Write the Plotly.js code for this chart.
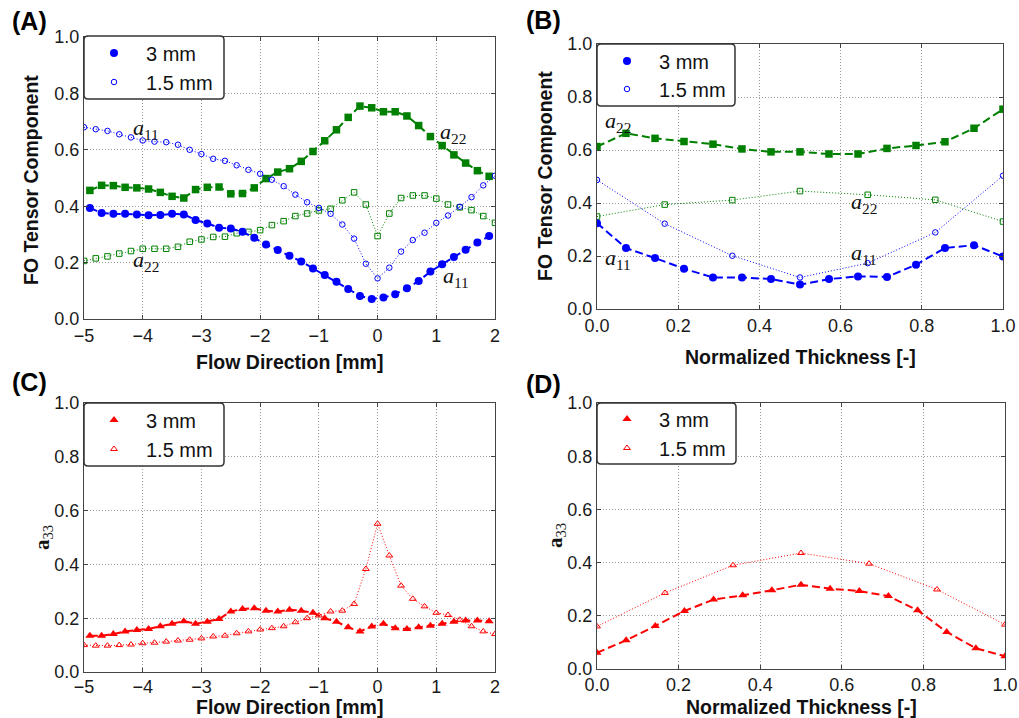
<!DOCTYPE html>
<html>
<head>
<meta charset="utf-8">
<script src="https://cdn.plot.ly/plotly-3.0.1.min.js"></script>
<style>html,body{margin:0;padding:0;background:#fff;}#chart{width:1019px;height:718px;}</style>
</head>
<body>
<div id="chart"></div>
<script>
// ---------- data ----------
const xFlow3 = [-4.9,-4.7,-4.5,-4.3,-4.1,-3.9,-3.7,-3.5,-3.3,-3.1,-2.9,-2.7,-2.5,-2.3,-2.1,-1.9,-1.7,-1.5,-1.3,-1.1,-0.9,-0.7,-0.5,-0.3,-0.1,0.1,0.3,0.5,0.7,0.9,1.1,1.3,1.5,1.7,1.9];
const xFlow15 = [-5.0,-4.8,-4.6,-4.4,-4.2,-4.0,-3.8,-3.6,-3.4,-3.2,-3.0,-2.8,-2.6,-2.4,-2.2,-2.0,-1.8,-1.6,-1.4,-1.2,-1.0,-0.8,-0.6,-0.4,-0.2,0.0,0.2,0.4,0.6,0.8,1.0,1.2,1.4,1.6,1.8,2.0];
const xThick3 = [0,0.0714,0.1429,0.2143,0.2857,0.3571,0.4286,0.5,0.5714,0.6429,0.7143,0.7857,0.8571,0.9286,1.0];
const xThick15 = [0,0.1667,0.3333,0.5,0.6667,0.8333,1.0];

// Panel A: flow direction
const flowA11_3 = [0.394,0.376,0.373,0.373,0.371,0.368,0.369,0.373,0.371,0.351,0.339,0.324,0.321,0.309,0.288,0.264,0.245,0.224,0.204,0.179,0.156,0.132,0.106,0.082,0.071,0.076,0.088,0.109,0.135,0.168,0.194,0.220,0.246,0.271,0.294];
const flowA22_3 = [0.456,0.474,0.473,0.467,0.465,0.461,0.449,0.435,0.429,0.459,0.467,0.468,0.444,0.445,0.465,0.498,0.521,0.533,0.559,0.594,0.632,0.671,0.715,0.755,0.749,0.735,0.735,0.720,0.686,0.647,0.615,0.582,0.553,0.526,0.506];
const flowA11_15 = [0.680,0.673,0.667,0.655,0.644,0.633,0.629,0.627,0.618,0.600,0.585,0.568,0.561,0.545,0.529,0.515,0.494,0.471,0.441,0.414,0.394,0.373,0.335,0.285,0.196,0.144,0.182,0.239,0.280,0.306,0.341,0.367,0.398,0.432,0.474,0.508];
const flowA22_15 = [0.206,0.215,0.222,0.232,0.241,0.249,0.249,0.249,0.256,0.274,0.282,0.291,0.292,0.304,0.309,0.315,0.333,0.347,0.365,0.374,0.385,0.391,0.421,0.449,0.406,0.294,0.374,0.429,0.438,0.438,0.427,0.406,0.396,0.386,0.365,0.341];

// Panel B: thickness
const thickA11_3 = [0.324,0.230,0.192,0.152,0.119,0.119,0.113,0.092,0.113,0.123,0.121,0.167,0.230,0.241,0.198];
const thickA22_3 = [0.613,0.663,0.644,0.632,0.622,0.604,0.593,0.593,0.585,0.585,0.606,0.617,0.631,0.682,0.754];
const thickA11_15 = [0.487,0.322,0.201,0.119,0.173,0.289,0.503];
const thickA22_15 = [0.349,0.394,0.411,0.445,0.431,0.412,0.330];

// Panel C: a33 along flow
const flowA33_3 = [0.135,0.135,0.141,0.151,0.156,0.160,0.170,0.179,0.189,0.179,0.187,0.197,0.225,0.234,0.237,0.228,0.225,0.231,0.228,0.220,0.200,0.187,0.166,0.151,0.169,0.179,0.163,0.160,0.166,0.172,0.179,0.187,0.191,0.191,0.189];
const flowA33_15 = [0.100,0.098,0.098,0.100,0.102,0.107,0.109,0.113,0.117,0.120,0.125,0.132,0.135,0.144,0.151,0.158,0.163,0.170,0.185,0.200,0.210,0.225,0.228,0.253,0.383,0.551,0.433,0.321,0.272,0.244,0.220,0.212,0.194,0.170,0.151,0.141];

// Panel D: a33 through thickness
const thickA33_3 = [0.061,0.108,0.162,0.218,0.261,0.277,0.296,0.317,0.302,0.293,0.274,0.221,0.139,0.078,0.048];
const thickA33_15 = [0.160,0.286,0.390,0.436,0.396,0.299,0.167];

const legendLabels = ['3 mm', '1.5 mm'];
const yTickVals = [0,0.2,0.4,0.6,0.8,1.0];
const flowTicks = [-5,-4,-3,-2,-1,0,1,2];
const thickTicks = [0,0.2,0.4,0.6,0.8,1.0];

// ---------- style ----------
const W = 1019, H = 718;
const FONT = 'Liberation Sans, Arial, Helvetica, sans-serif';
const SERIF = 'Liberation Serif, DejaVu Serif, Times New Roman, serif';
const BLUE = '#0000ff', GREEN = '#008000', RED = '#ff0000';
const px = p => p / W;
const py = p => 1 - p / H;

function series(x, y, xa, ya, color, filled, symbol, legendName, legendId) {
  const tr = [];
  tr.push({
    x: x, y: y, xaxis: xa, yaxis: ya, type: 'scatter', mode: 'lines',
    line: filled ? {color: color, width: 2, dash: '8px,4px'} : {color: color, width: 1, dash: '1px,2px'},
    showlegend: false, hoverinfo: 'skip'
  });
  tr.push({
    x: x, y: y, xaxis: xa, yaxis: ya, type: 'scatter', mode: 'markers',
    name: legendName || '', legend: legendId || 'legend',
    showlegend: !!legendName,
    marker: filled
      ? {symbol: symbol, size: symbol === 'square' ? 7.5 : 8, color: color, line: {width: 0}}
      : {symbol: symbol + '-open', size: symbol === 'triangle-up' ? 6 : 5.5, color: color, line: {width: 1, color: color}}
  });
  return tr;
}

const data = [].concat(
  series(xFlow3, flowA22_3, 'x', 'y', GREEN, true, 'square'),
  series(xFlow15, flowA22_15, 'x', 'y', GREEN, false, 'square'),
  series(xFlow3, flowA11_3, 'x', 'y', BLUE, true, 'circle', legendLabels[0], 'legend'),
  series(xFlow15, flowA11_15, 'x', 'y', BLUE, false, 'circle', legendLabels[1], 'legend2'),

  series(xThick3, thickA22_3, 'x2', 'y2', GREEN, true, 'square'),
  series(xThick15, thickA22_15, 'x2', 'y2', GREEN, false, 'square'),
  series(xThick3, thickA11_3, 'x2', 'y2', BLUE, true, 'circle', legendLabels[0], 'legend3'),
  series(xThick15, thickA11_15, 'x2', 'y2', BLUE, false, 'circle', legendLabels[1], 'legend4'),

  series(xFlow3, flowA33_3, 'x3', 'y3', RED, true, 'triangle-up', legendLabels[0], 'legend5'),
  series(xFlow15, flowA33_15, 'x3', 'y3', RED, false, 'triangle-up', legendLabels[1], 'legend6'),

  series(xThick3, thickA33_3, 'x4', 'y4', RED, true, 'triangle-up', legendLabels[0], 'legend7'),
  series(xThick15, thickA33_15, 'x4', 'y4', RED, false, 'triangle-up', legendLabels[1], 'legend8')
);

function axis(range, tickvals, fmt, domain, anchor, extra) {
  return Object.assign({
    range: range, domain: domain, anchor: anchor,
    tickmode: 'array', tickvals: tickvals, tickformat: fmt,
    showline: true, linecolor: '#444', linewidth: 1.2, mirror: 'ticks',
    ticks: 'inside', ticklen: 4, tickwidth: 1, tickcolor: '#444',
    showgrid: true, gridcolor: '#9a9a9a', griddash: '1px,2px', gridwidth: 1,
    zeroline: false, automargin: false, fixedrange: true,
    tickfont: {family: FONT, size: 18, color: '#1a1a1a'}
  }, extra || {});
}

// plot areas in pixels [left, top, right, bottom]
const boxA = [84, 37, 495, 319];
const boxB = [597, 44, 1003, 309];
const boxC = [84, 403, 495, 672];
const boxD = [597, 403, 1005, 669];
const xd = b => [px(b[0]), px(b[2])];
const yd = b => [py(b[3]), py(b[1])];

function legendBox(l, t, r, b) {
  const rx = 4 / W, ry = 4 / H;
  const x0 = px(l), x1 = px(r), y1 = py(t), y0 = py(b);
  return {
    type: 'path', xref: 'paper', yref: 'paper', layer: 'above',
    path: `M ${x0 + rx},${y1} L ${x1 - rx},${y1} Q ${x1},${y1} ${x1},${y1 - ry} L ${x1},${y0 + ry} Q ${x1},${y0} ${x1 - rx},${y0} L ${x0 + rx},${y0} Q ${x0},${y0} ${x0},${y0 + ry} L ${x0},${y1 - ry} Q ${x0},${y1} ${x0 + rx},${y1} Z`,
    fillcolor: '#ffffff', line: {color: '#333333', width: 1.5}
  };
}

// one legend per entry, placed at the entry's row centre
function legendCfg(l, yc) {
  return {
    x: px(l), y: py(yc), xanchor: 'left', yanchor: 'middle', xref: 'paper', yref: 'paper',
    bgcolor: 'rgba(0,0,0,0)', borderwidth: 0,
    font: {family: FONT, size: 20, color: '#111'},
    itemwidth: 54
  };
}

function label(text, xp, yp, opts) {
  return Object.assign({
    text: text, xref: 'paper', yref: 'paper', x: px(xp), y: py(yp),
    showarrow: false, xanchor: 'center', yanchor: 'middle',
    font: {family: FONT, size: 19.5, color: '#111'}
  }, opts || {});
}

function mathLabel(text, xa, ya, x, y) {
  return {
    text: text, xref: xa, yref: ya, x: x, y: y, showarrow: false,
    xanchor: 'left', yanchor: 'middle',
    font: {family: SERIF, size: 22, color: '#111'}
  };
}

const annotations = [
  label('<b>(A)</b>', 29, 21.5, {font: {family: FONT, size: 25, color: '#000'}}),
  label('<b>(B)</b>', 543, 20, {font: {family: FONT, size: 25, color: '#000'}}),
  label('<b>(C)</b>', 29, 382, {font: {family: FONT, size: 25, color: '#000'}}),
  label('<b>(D)</b>', 543, 384, {font: {family: FONT, size: 25, color: '#000'}}),

  label('<b>Flow Direction [mm]</b>', 289.5, 362),
  label('<b>Normalized Thickness [-]</b>', 800, 357),
  label('<b>Flow Direction [mm]</b>', 289.5, 707),
  label('<b>Normalized Thickness [-]</b>', 801, 707),

  label('<b>FO Tensor Component</b>', 31, 180, {textangle: -90}),
  label('<b>FO Tensor Component</b>', 545, 176, {textangle: -90}),
  label('<b>a</b><sub>33</sub>', 43, 538, {textangle: -90, font: {family: SERIF, size: 21, color: '#111'}}),
  label('<b>a</b><sub>33</sub>', 556, 536, {textangle: -90, font: {family: SERIF, size: 21, color: '#111'}}),

  mathLabel('<i>a</i><sub>11</sub>', 'x', 'y', -4.2, 0.674),
  mathLabel('<i>a</i><sub>22</sub>', 'x', 'y', -4.2, 0.205),
  mathLabel('<i>a</i><sub>22</sub>', 'x', 'y', 1.03, 0.66),
  mathLabel('<i>a</i><sub>11</sub>', 'x', 'y', 1.08, 0.15),

  mathLabel('<i>a</i><sub>22</sub>', 'x2', 'y2', 0.015, 0.707),
  mathLabel('<i>a</i><sub>11</sub>', 'x2', 'y2', 0.015, 0.19),
  mathLabel('<i>a</i><sub>22</sub>', 'x2', 'y2', 0.62, 0.40),
  mathLabel('<i>a</i><sub>11</sub>', 'x2', 'y2', 0.62, 0.207)
];

const layout = {
  width: W, height: H,
  margin: {l: 0, r: 0, t: 0, b: 0, pad: 0},
  paper_bgcolor: '#ffffff', plot_bgcolor: '#ffffff',
  font: {family: FONT, size: 17, color: '#111'},
  showlegend: true,
  xaxis: axis([-5, 2], flowTicks, '', xd(boxA), 'y'),
  yaxis: axis([0, 1], yTickVals, '.1f', yd(boxA), 'x'),
  xaxis2: axis([0, 1], thickTicks, '.1f', xd(boxB), 'y2'),
  yaxis2: axis([0, 1], yTickVals, '.1f', yd(boxB), 'x2'),
  xaxis3: axis([-5, 2], flowTicks, '', xd(boxC), 'y3', {ticklabelstandoff: -2}),
  yaxis3: axis([0, 1], yTickVals, '.1f', yd(boxC), 'x3'),
  xaxis4: axis([0, 1], thickTicks, '.1f', xd(boxD), 'y4', {ticklabelstandoff: -1}),
  yaxis4: axis([0, 1], yTickVals, '.1f', yd(boxD), 'x4'),
  legend: legendCfg(82, 53),
  legend2: legendCfg(82, 82),
  legend3: legendCfg(595, 61),
  legend4: legendCfg(595, 89),
  legend5: legendCfg(82, 420),
  legend6: legendCfg(82, 449),
  legend7: legendCfg(595, 419),
  legend8: legendCfg(595, 448),
  shapes: [
    legendBox(84, 36, 224, 99),
    legendBox(597, 44, 735, 106),
    legendBox(84, 403, 224, 466),
    legendBox(597, 403, 736, 464)
  ],
  annotations: annotations
};

Plotly.newPlot('chart', data, layout, {staticPlot: true, displayModeBar: false});
</script>
</body>
</html>
